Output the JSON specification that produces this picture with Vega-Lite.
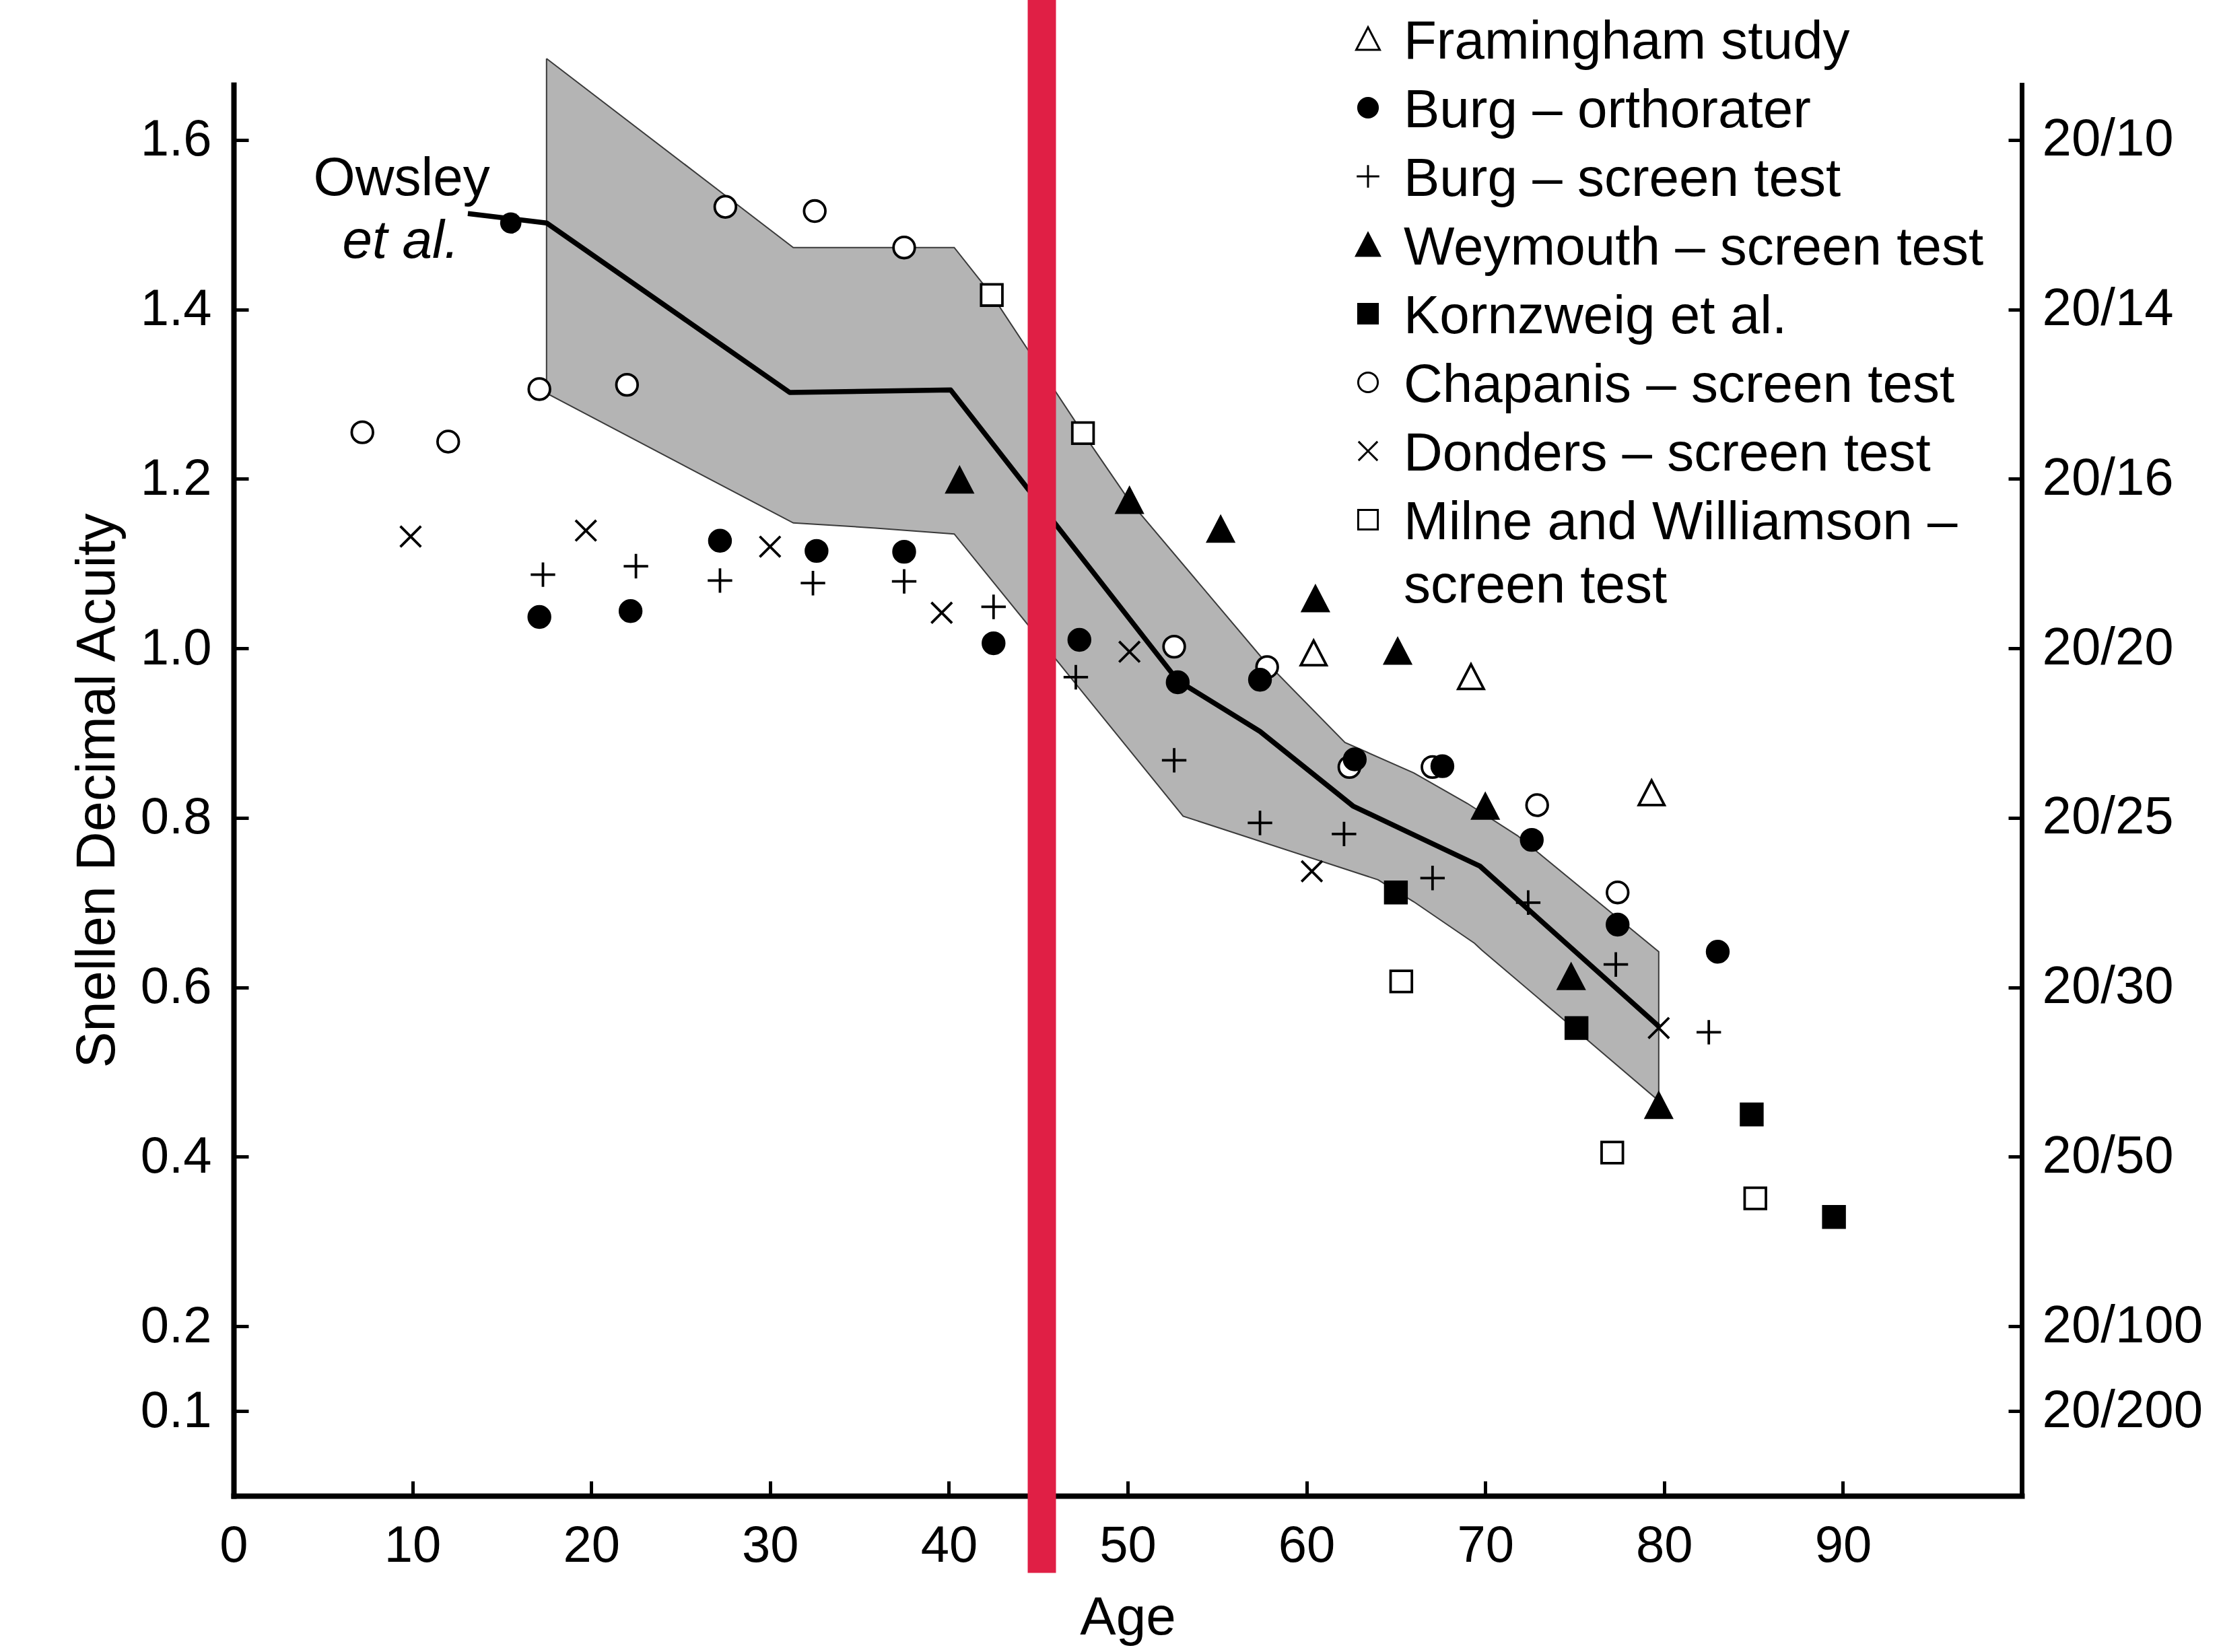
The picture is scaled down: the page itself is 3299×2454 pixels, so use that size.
{
  "$schema": "https://vega.github.io/schema/vega-lite/v6.json",
  "width": 2656,
  "height": 2096,
  "autosize": {"type": "none"},
  "padding": {"left": 347, "top": 126, "right": 296, "bottom": 232},
  "background": "white",
  "config": {
    "view": {"stroke": null},
    "font": "Liberation Sans"
  },
  "datasets": {
    "points": [
      {"study": "Chapanis – screen test", "age": 7.2, "acuity": 1.255},
      {"study": "Chapanis – screen test", "age": 12.0, "acuity": 1.244},
      {"study": "Chapanis – screen test", "age": 17.1, "acuity": 1.306},
      {"study": "Chapanis – screen test", "age": 22.0, "acuity": 1.311},
      {"study": "Chapanis – screen test", "age": 27.5, "acuity": 1.521},
      {"study": "Chapanis – screen test", "age": 32.5, "acuity": 1.516},
      {"study": "Chapanis – screen test", "age": 37.5, "acuity": 1.473},
      {"study": "Chapanis – screen test", "age": 52.6, "acuity": 1.002},
      {"study": "Chapanis – screen test", "age": 57.8, "acuity": 0.978},
      {"study": "Chapanis – screen test", "age": 62.4, "acuity": 0.86},
      {"study": "Chapanis – screen test", "age": 67.05, "acuity": 0.86},
      {"study": "Chapanis – screen test", "age": 72.9, "acuity": 0.815},
      {"study": "Chapanis – screen test", "age": 77.4, "acuity": 0.712},
      {"study": "Milne and Williamson – screen test", "age": 42.4, "acuity": 1.417},
      {"study": "Milne and Williamson – screen test", "age": 47.5, "acuity": 1.254},
      {"study": "Milne and Williamson – screen test", "age": 65.3, "acuity": 0.607},
      {"study": "Milne and Williamson – screen test", "age": 77.1, "acuity": 0.405},
      {"study": "Milne and Williamson – screen test", "age": 85.1, "acuity": 0.351},
      {"study": "Framingham study", "age": 60.4, "acuity": 0.994},
      {"study": "Framingham study", "age": 69.2, "acuity": 0.966},
      {"study": "Framingham study", "age": 79.3, "acuity": 0.829},
      {"study": "Burg – orthorater", "age": 17.1, "acuity": 1.037},
      {"study": "Burg – orthorater", "age": 22.2, "acuity": 1.044},
      {"study": "Burg – orthorater", "age": 27.2, "acuity": 1.127},
      {"study": "Burg – orthorater", "age": 32.6, "acuity": 1.115},
      {"study": "Burg – orthorater", "age": 37.5, "acuity": 1.114},
      {"study": "Burg – orthorater", "age": 42.5, "acuity": 1.006},
      {"study": "Burg – orthorater", "age": 47.3, "acuity": 1.01},
      {"study": "Burg – orthorater", "age": 52.8, "acuity": 0.96},
      {"study": "Burg – orthorater", "age": 57.4, "acuity": 0.963},
      {"study": "Burg – orthorater", "age": 62.7, "acuity": 0.869},
      {"study": "Burg – orthorater", "age": 67.6, "acuity": 0.861},
      {"study": "Burg – orthorater", "age": 72.6, "acuity": 0.774},
      {"study": "Burg – orthorater", "age": 77.4, "acuity": 0.674},
      {"study": "Burg – orthorater", "age": 83.0, "acuity": 0.642},
      {"study": "Burg – screen test", "age": 17.3, "acuity": 1.087},
      {"study": "Burg – screen test", "age": 22.5, "acuity": 1.097},
      {"study": "Burg – screen test", "age": 27.2, "acuity": 1.08},
      {"study": "Burg – screen test", "age": 32.4, "acuity": 1.077},
      {"study": "Burg – screen test", "age": 37.5, "acuity": 1.079},
      {"study": "Burg – screen test", "age": 42.5, "acuity": 1.049},
      {"study": "Burg – screen test", "age": 47.1, "acuity": 0.966},
      {"study": "Burg – screen test", "age": 52.6, "acuity": 0.868},
      {"study": "Burg – screen test", "age": 57.4, "acuity": 0.794},
      {"study": "Burg – screen test", "age": 62.1, "acuity": 0.781},
      {"study": "Burg – screen test", "age": 67.05, "acuity": 0.729},
      {"study": "Burg – screen test", "age": 72.4, "acuity": 0.7},
      {"study": "Burg – screen test", "age": 77.3, "acuity": 0.627},
      {"study": "Burg – screen test", "age": 82.5, "acuity": 0.547},
      {"study": "Weymouth – screen test", "age": 40.6, "acuity": 1.198},
      {"study": "Weymouth – screen test", "age": 50.1, "acuity": 1.174},
      {"study": "Weymouth – screen test", "age": 55.2, "acuity": 1.14},
      {"study": "Weymouth – screen test", "age": 60.5, "acuity": 1.058},
      {"study": "Weymouth – screen test", "age": 65.1, "acuity": 0.996},
      {"study": "Weymouth – screen test", "age": 70.0, "acuity": 0.813},
      {"study": "Weymouth – screen test", "age": 74.8, "acuity": 0.612},
      {"study": "Weymouth – screen test", "age": 79.7, "acuity": 0.46},
      {"study": "Kornzweig et al.", "age": 65.0, "acuity": 0.712},
      {"study": "Kornzweig et al.", "age": 75.1, "acuity": 0.552},
      {"study": "Kornzweig et al.", "age": 84.9, "acuity": 0.45},
      {"study": "Kornzweig et al.", "age": 89.5, "acuity": 0.329},
      {"study": "Donders – screen test", "age": 9.9, "acuity": 1.132},
      {"study": "Donders – screen test", "age": 19.7, "acuity": 1.139},
      {"study": "Donders – screen test", "age": 30.0, "acuity": 1.12},
      {"study": "Donders – screen test", "age": 39.6, "acuity": 1.042},
      {"study": "Donders – screen test", "age": 50.1, "acuity": 0.996},
      {"study": "Donders – screen test", "age": 60.3, "acuity": 0.737},
      {"study": "Donders – screen test", "age": 79.7, "acuity": 0.552}
    ],
    "band": [
      {"i": 1, "age": 17.5, "acuity": 1.696},
      {"i": 2, "age": 31.3, "acuity": 1.473},
      {"i": 3, "age": 40.3, "acuity": 1.473},
      {"i": 4, "age": 42.4, "acuity": 1.417},
      {"i": 5, "age": 47.5, "acuity": 1.254},
      {"i": 6, "age": 50.1, "acuity": 1.174},
      {"i": 7, "age": 57.5, "acuity": 0.989},
      {"i": 8, "age": 62.15, "acuity": 0.889},
      {"i": 9, "age": 66.0, "acuity": 0.853},
      {"i": 10, "age": 69.0, "acuity": 0.817},
      {"i": 11, "age": 71.8, "acuity": 0.779},
      {"i": 12, "age": 79.7, "acuity": 0.642},
      {"i": 13, "age": 79.7, "acuity": 0.466},
      {"i": 14, "age": 75.1, "acuity": 0.549},
      {"i": 15, "age": 69.8, "acuity": 0.644},
      {"i": 16, "age": 69.4, "acuity": 0.652},
      {"i": 17, "age": 66.0, "acuity": 0.701},
      {"i": 18, "age": 64.0, "acuity": 0.727},
      {"i": 19, "age": 53.1, "acuity": 0.802},
      {"i": 20, "age": 40.3, "acuity": 1.135},
      {"i": 21, "age": 35.9, "acuity": 1.142},
      {"i": 22, "age": 31.3, "acuity": 1.148},
      {"i": 23, "age": 17.5, "acuity": 1.301},
      {"i": 24, "age": 17.5, "acuity": 1.696}
    ],
    "owsley": [
      {"age": 13.1, "acuity": 1.513},
      {"age": 17.5, "acuity": 1.502},
      {"age": 31.1, "acuity": 1.302},
      {"age": 40.1, "acuity": 1.305},
      {"age": 52.8, "acuity": 0.962},
      {"age": 57.4, "acuity": 0.902},
      {"age": 62.6, "acuity": 0.814},
      {"age": 66.0, "acuity": 0.78},
      {"age": 69.7, "acuity": 0.743},
      {"age": 79.7, "acuity": 0.554}
    ]
  },
  "encoding": {
    "x": {
      "field": "age",
      "type": "quantitative",
      "scale": {"domain": [0, 100], "nice": false, "zero": false},
      "axis": {
        "title": "Age",
        "values": [0, 10, 20, 30, 40, 50, 60, 70, 80, 90],
        "format": "d",
        "grid": false,
        "domainColor": "black",
        "domainWidth": 8,
        "domainCap": "square",
        "tickColor": "black",
        "tickWidth": 5,
        "tickSize": -22,
        "labelFontSize": 76,
        "labelColor": "black",
        "labelPadding": 59,
        "labelFlush": false,
        "labelOverlap": false,
        "titleFontSize": 80,
        "titleFontWeight": "normal",
        "titleColor": "black",
        "titlePadding": 30
      }
    },
    "y": {
      "field": "acuity",
      "type": "quantitative",
      "scale": {"domain": [0, 1.665], "nice": false, "zero": false},
      "axis": null
    }
  },
  "layer": [
    {
      "data": {"name": "band"},
      "mark": {"type": "line", "fill": "#b4b4b4", "stroke": "#3a3a3a", "strokeWidth": 2, "strokeJoin": "miter"},
      "encoding": {
        "order": {"field": "i", "type": "quantitative"},
        "y": {
          "field": "acuity",
          "type": "quantitative",
          "scale": {"domain": [0, 1.665], "nice": false, "zero": false},
          "axis": {
            "orient": "left",
            "title": "Snellen Decimal Acuity",
            "values": [0.1, 0.2, 0.4, 0.6, 0.8, 1, 1.2, 1.4, 1.6],
            "format": ".1f",
            "grid": false,
            "domainColor": "black",
            "domainWidth": 8,
            "domainCap": "square",
            "tickColor": "black",
            "tickWidth": 5,
            "tickSize": -22,
            "labelFontSize": 76,
            "labelColor": "black",
            "labelPadding": 55,
            "labelFlush": false,
            "labelOverlap": false,
            "titleFontSize": 81,
            "titleFontWeight": "normal",
            "titleColor": "black",
            "titlePadding": 22
          }
        }
      }
    },
    {
      "data": {"name": "owsley"},
      "mark": {"type": "line", "stroke": "black", "strokeWidth": 7.5, "strokeJoin": "round"},
      "encoding": {
        "y": {
          "field": "acuity",
          "type": "quantitative",
          "scale": {"domain": [0, 1.665], "nice": false, "zero": false},
          "axis": {
            "orient": "right",
            "title": null,
            "values": [0.1, 0.2, 0.4, 0.6, 0.8, 1, 1.2, 1.4, 1.6],
            "labelExpr": "datum.value == 1.6 ? '20/10' : datum.value == 1.4 ? '20/14' : datum.value == 1.2 ? '20/16' : datum.value == 1 ? '20/20' : datum.value == 0.8 ? '20/25' : datum.value == 0.6 ? '20/30' : datum.value == 0.4 ? '20/50' : datum.value == 0.2 ? '20/100' : '20/200'",
            "grid": false,
            "domainColor": "black",
            "domainWidth": 7,
            "domainCap": "square",
            "tickColor": "black",
            "tickWidth": 5,
            "tickSize": -20,
            "labelFontSize": 78,
            "labelColor": "black",
            "labelPadding": 50,
            "labelLimit": 1000,
            "labelFlush": false,
            "labelOverlap": false
          }
        }
      }
    },
    {
      "data": {"name": "points"},
      "mark": {"type": "point", "filled": true, "stroke": "black", "strokeWidth": 3.8, "size": 1000, "opacity": 1},
      "encoding": {
        "shape": {
          "field": "study",
          "type": "nominal",
          "scale": {
            "domain": ["Framingham study", "Burg – orthorater", "Burg – screen test", "Weymouth – screen test", "Kornzweig et al.", "Chapanis – screen test", "Donders – screen test", "Milne and Williamson – screen test"],
            "range": ["M0,-1.2L1.2,1.1L-1.2,1.1Z", "circle", "M-1.15,0L1.15,0M0,-1.15L0,1.15", "M0,-1.2L1.2,1.1L-1.2,1.1Z", "square", "circle", "M-0.97,-0.97L0.97,0.97M-0.97,0.97L0.97,-0.97", "square"]
          },
          "legend": {
            "title": null,
            "orient": "none",
            "legendX": 1645,
            "legendY": -108,
            "padding": 0,
            "symbolSize": 850,
            "labelFontSize": 80,
            "labelColor": "black",
            "labelLimit": 3000,
            "labelOffset": 13,
            "labelBaseline": "alphabetic",
            "rowPadding": 17,
            "labelExpr": "datum.label == 'Milne and Williamson – screen test' ? ['Milne and Williamson –', 'screen test'] : datum.label",
            "encoding": {
              "labels": {"dy": {"value": 29}, "lineHeight": {"value": 94}},
              "symbols": {"stroke": {"value": "black"}, "strokeWidth": {"value": 3}}
            }
          }
        },
        "fill": {
          "field": "study",
          "type": "nominal",
          "scale": {
            "domain": ["Framingham study", "Burg – orthorater", "Burg – screen test", "Weymouth – screen test", "Kornzweig et al.", "Chapanis – screen test", "Donders – screen test", "Milne and Williamson – screen test"],
            "range": ["white", "black", "black", "black", "black", "white", "black", "white"]
          },
          "legend": {
            "title": null,
            "orient": "none",
            "legendX": 1645,
            "legendY": -108,
            "padding": 0,
            "symbolSize": 850,
            "labelFontSize": 80,
            "labelColor": "black",
            "labelLimit": 3000,
            "labelOffset": 13,
            "labelBaseline": "alphabetic",
            "rowPadding": 17,
            "labelExpr": "datum.label == 'Milne and Williamson – screen test' ? ['Milne and Williamson –', 'screen test'] : datum.label",
            "encoding": {
              "labels": {"dy": {"value": 29}, "lineHeight": {"value": 94}},
              "symbols": {"stroke": {"value": "black"}, "strokeWidth": {"value": 3}}
            }
          }
        }
      }
    },
    {
      "data": {"values": [{"age": 15.5, "acuity": 1.502}]},
      "mark": {"type": "point", "shape": "circle", "filled": true, "fill": "black", "size": 1000, "opacity": 1}
    },
    {
      "data": {"values": [{"age": 9.4, "acuity": 1.535, "label": "Owsley"}]},
      "mark": {"type": "text", "fontSize": 80, "align": "center", "baseline": "alphabetic", "color": "black"},
      "encoding": {"text": {"field": "label"}}
    },
    {
      "data": {"values": [{"age": 9.35, "acuity": 1.461, "label": "et al."}]},
      "mark": {"type": "text", "fontSize": 80, "fontStyle": "italic", "align": "center", "baseline": "alphabetic", "color": "black"},
      "encoding": {"text": {"field": "label"}}
    },
    {
      "data": {"values": [{"age": 45.2, "acuity": -0.091, "acuity2": 1.765}]},
      "mark": {"type": "rule", "stroke": "#e01f45", "strokeWidth": 42},
      "encoding": {"y2": {"field": "acuity2"}}
    }
  ],
  "resolve": {"axis": {"y": "independent"}}
}
